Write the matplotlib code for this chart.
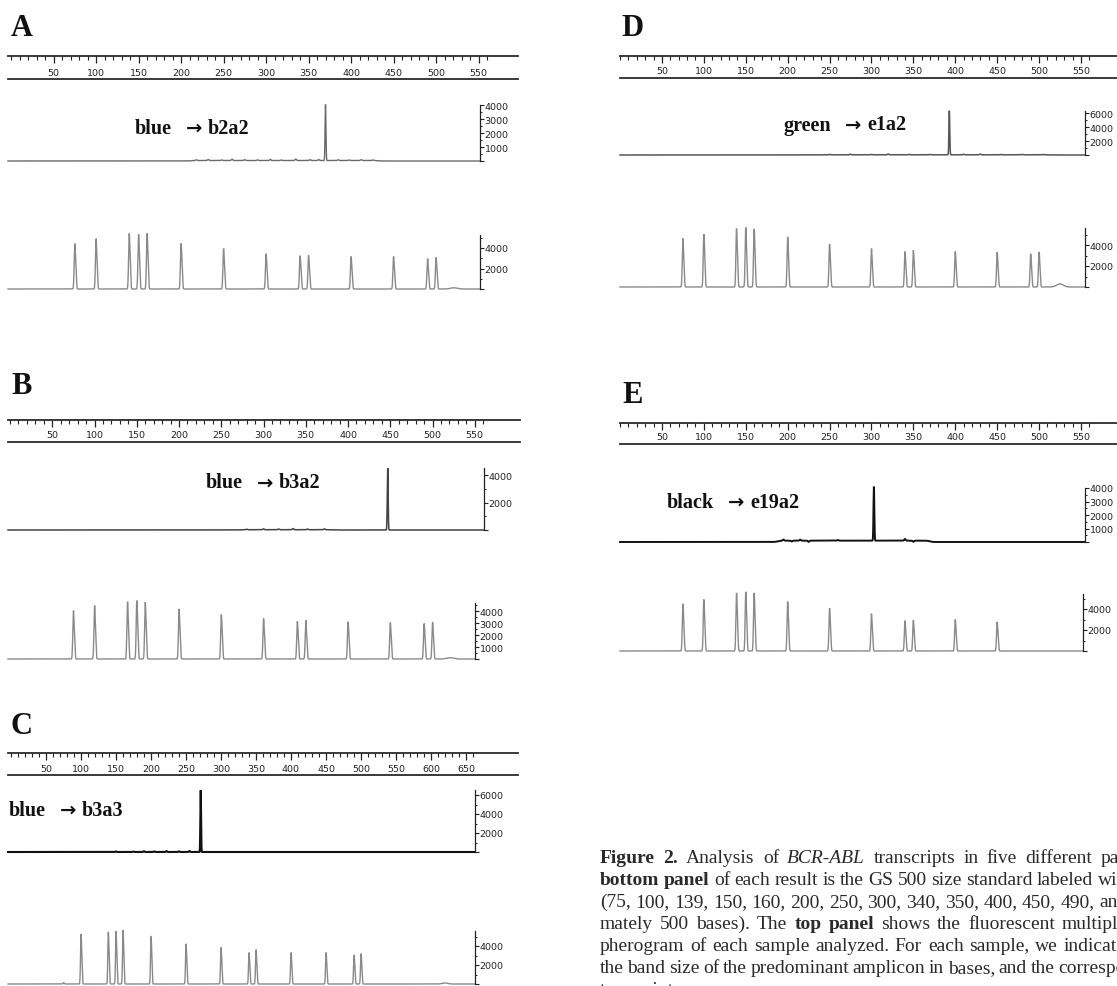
import numpy as np
import matplotlib.pyplot as plt

# ---- values ----
# GS 500 size standard fragments (bases)
SIZES = [75, 100, 139, 150, 160, 200, 250, 300, 340, 350, 400, 450, 490, 500]

# peak heights (RFU) of the size standard in each bottom panel
std_a = [4230, 4700, 5200, 5100, 5200, 4250, 3770, 3290, 3100, 3130, 3030, 3030, 2840, 2940]
std_b = [3860, 4260, 4570, 4660, 4540, 4000, 3540, 3230, 3000, 3090, 2970, 2910, 2830, 2940]
std_c = [120, 5020, 5260, 5330, 5440, 4800, 4030, 3680, 3160, 3440, 3160, 3160, 2910, 3050]
std_d = [4430, 4830, 5330, 5430, 5300, 4570, 3930, 3500, 3230, 3330, 3230, 3170, 3030, 3200]
std_e = [4300, 4700, 5300, 5400, 5300, 4500, 3900, 3400, 2770, 2800, 2870, 2650]

# small broad hump after the standard (size, height)
hump_a = (521, 120)
hump_b = (521, 110)
hump_c = (620, 110)
hump_d = (525, 300)

# sample amplicon (size, height)
peak_a = (370, 4000)
peak_b = (447, 4500)
peak_c = (271, 6500)
peak_d = (393, 6300)
peak_e = (303, 4000)

# low level debris on the sample baselines
noise_a_pos = [218, 232, 248, 260, 275, 290, 305, 318, 335, 352, 362, 385, 398, 412, 426]
noise_a_h = [50, 70, 40, 90, 60, 50, 80, 40, 100, 60, 70, 50, 40, 60, 40]
noise_b_pos = [280, 300, 318, 335, 352, 372]
noise_b_h = [40, 60, 50, 80, 50, 60]
noise_c_pos = [150, 175, 190, 205, 222, 240, 255]
noise_c_h = [60, 50, 80, 60, 90, 70, 100]
noise_d_pos = [250, 275, 300, 320, 345, 370, 410, 430, 455, 480, 505]
noise_d_h = [60, 90, 50, 120, 70, 60, 80, 100, 60, 70, 50]
noise_e_pos = [195, 205, 215, 225, 260, 340, 350]
noise_e_h = [80, -60, 70, -90, 50, 120, -80]
# raised stretch of baseline (from, to, level)
shelf_a = (212, 432, 35)
shelf_b = (270, 385, 20)
shelf_d = (235, 520, 25)
shelf_e = (188, 370, 100)

W, H = 1117, 987
fig = plt.figure(figsize=(W / 100, H / 100), dpi=100)
renderer = fig.canvas.get_renderer()
PT = 72 / 100  # points per pixel
serif = ['Liberation Serif', 'DejaVu Serif']


def px_axes(x0, y0, x1, y1):
    ax = fig.add_axes([x0 / W, 1 - y1 / H, (x1 - x0) / W, (y1 - y0) / H])
    ax.patch.set_alpha(0)
    return ax


def signal(u, pos, hts, sigma=0.7, shoulder=True):
    y = np.zeros_like(u)
    for c, h in zip(pos, hts):
        y += h * np.exp(-0.5 * ((u - c) / sigma) ** 2)
        if shoulder:
            y += 0.4 * h * np.exp(-0.5 * ((u - c - 1.3) / 0.6) ** 2)
    return y


def shelf(u, a, b, level):
    return level / (1 + np.exp(-(u - a) / 1.5)) / (1 + np.exp((u - b) / 1.5))


def ruler(x_l, x_r, y_t, y_b, x0, s, umax, lab_y):
    ax = px_axes(x_l, y_t, x_r, y_b)
    ax.set_xlim((x_l - x0) / s, (x_r - x0) / s)
    ax.set_ylim(0, 1)
    ax.spines['left'].set_visible(False)
    ax.spines['right'].set_visible(False)
    for sp in ['top', 'bottom']:
        ax.spines[sp].set_linewidth(1.3)
        ax.spines[sp].set_color('#2a2a2a')
    major = np.arange(50, umax + 1, 50)
    ax.set_xticks(major)
    ax.set_xticks(np.arange(0, umax + 11, 10), minor=True)
    ax.tick_params(axis='x', which='both', bottom=False, top=True, direction='in',
                   labelbottom=False, color='#222')
    ax.tick_params(axis='x', which='major', length=7 * PT, width=0.9)
    ax.tick_params(axis='x', which='minor', length=3.5 * PT, width=0.8)
    ax.set_yticks([])
    fy = (y_b - lab_y) / (y_b - y_t)
    for m in major:
        ax.text(m, fy, str(m), ha='center', va='center', fontsize=6.8,
                color='#222', family='DejaVu Sans')
    return ax


def trace(x_l, x0, s, base, k, axis_px, ymax, labels, minor, u, y, color, lw):
    top_px = base - ymax * k - 8
    ax = px_axes(x_l, top_px, axis_px, base + 6)
    ax.set_xlim((x_l - x0) / s, (axis_px - x0) / s)
    ax.set_ylim(-6 / k, (base - top_px) / k)
    for sp in ['left', 'top', 'bottom']:
        ax.spines[sp].set_visible(False)
    ax.spines['right'].set_bounds(0, ymax)
    ax.spines['right'].set_linewidth(0.9)
    ax.spines['right'].set_color('#222')
    ax.set_xticks([])
    ax.yaxis.tick_right()
    ax.set_yticks([0] + labels)
    ax.set_yticklabels([''] + [str(v) for v in labels])
    ax.set_yticks(np.arange(minor, ymax + 1, minor), minor=True)
    ax.tick_params(axis='y', which='major', direction='out', length=4 * PT, width=0.8,
                   pad=0.5, labelsize=6.8, colors='#222')
    ax.tick_params(axis='y', which='minor', direction='out', length=2.2 * PT, width=0.7,
                   colors='#222')
    ax.plot(u, y, color=color, lw=lw, clip_on=False, solid_joinstyle='miter')
    return ax


def sample_curve(u, peak, npos, nh, shelf_par=None, sigma=0.5):
    y = signal(u, [peak[0]], [peak[1]], sigma=sigma, shoulder=False)
    y += signal(u, npos, nh, sigma=0.8, shoulder=False)
    if shelf_par is not None:
        y += shelf(u, *shelf_par)
    return y


def std_curve(u, heights, hump):
    y = signal(u, SIZES[:len(heights)], heights)
    if hump is not None:
        y += hump[1] * np.exp(-0.5 * ((u - hump[0]) / 4) ** 2)
    return y


def dye_label(cx, cy, dye, transcript):
    # "dye  -> transcript", bold serif words with a heavy arrow between them
    parts = [(dye, serif, 14.5, 14), ('\u2192', ['DejaVu Sans'], 14, 6), (transcript, serif, 14.5, 0)]
    items = []
    total = 0
    for txt, fam, size, gap in parts:
        t = fig.text(0, 1 - cy / H, txt, ha='left', va='center_baseline', fontsize=size,
                     fontweight='bold', family=fam, color='#111')
        w = t.get_window_extent(renderer).width
        items.append((t, w, gap))
        total += w + gap
    x = cx - total / 2
    for t, w, gap in items:
        t.set_x(x / W)
        x += w + gap


# panel layout: letter, ruler, sample trace, size-standard trace
panels = [
    dict(name='A', letter=(22, 28), x0=11, s=0.85, rl=(8, 518, 57, 80), lab_y=73, umax=550,
         top=(162, 14 / 1000, 480, 4000, [1000, 2000, 3000, 4000], 500),
         bot=(290, 20.5 / 2000, 480, 5300, [2000, 4000], 1000),
         text=(192, 126, 'blue', 'b2a2'), peak=peak_a, noise=(noise_a_pos, noise_a_h),
         shelf=shelf_a, std=std_a, hump=hump_a, tcol='#6a6a6a', tlw=1.0),
    dict(name='B', letter=(22, 387), x0=10, s=0.845, rl=(8, 520, 421, 443), lab_y=436, umax=550,
         top=(531, 27.5 / 2000, 484, 4500, [2000, 4000], 1000),
         bot=(660, 12 / 1000, 475, 4700, [1000, 2000, 3000, 4000], 500),
         text=(263, 481, 'blue', 'b3a2'), peak=peak_b, noise=(noise_b_pos, noise_b_h),
         shelf=shelf_b, std=std_b, hump=hump_b, tcol='#444444', tlw=1.1),
    dict(name='C', letter=(22, 726), x0=11, s=0.7, rl=(8, 518, 754, 776), lab_y=770, umax=650,
         top=(853, 19 / 2000, 475, 6500, [2000, 4000, 6000], 1000),
         bot=(985, 19 / 2000, 475, 5600, [2000, 4000], 1000),
         text=(66, 808, 'blue', 'b3a3'), peak=peak_c, noise=(noise_c_pos, noise_c_h),
         shelf=None, std=std_c, hump=hump_c, tcol='#111111', tlw=1.5),
    dict(name='D', letter=(633, 28), x0=620, s=0.838, rl=(620, 1117, 57, 79), lab_y=72, umax=550,
         top=(156, 14 / 2000, 1085, 6300, [2000, 4000, 6000], 1000),
         bot=(288, 21 / 2000, 1085, 5600, [2000, 4000], 1000),
         text=(845, 123, 'green', 'e1a2'), peak=peak_d, noise=(noise_d_pos, noise_d_h),
         shelf=shelf_d, std=std_d, hump=hump_d, tcol='#555555', tlw=1.1),
    dict(name='E', letter=(633, 396), x0=620, s=0.838, rl=(620, 1117, 424, 445), lab_y=438, umax=550,
         top=(543, 13.5 / 1000, 1085, 4000, [1000, 2000, 3000, 4000], 500),
         bot=(652, 21 / 2000, 1083, 5400, [2000, 4000], 1000),
         text=(733, 500, 'black', 'e19a2'), peak=peak_e, noise=(noise_e_pos, noise_e_h),
         shelf=shelf_e, std=std_e, hump=None, tcol='#111111', tlw=1.4),
]

for p in panels:
    fig.text(p['letter'][0] / W, 1 - p['letter'][1] / H, p['name'], ha='center', va='center',
             fontsize=22, fontweight='bold', family=serif, color='#111')
    rl = p['rl']
    ruler(rl[0], rl[1], rl[2], rl[3], p['x0'], p['s'], p['umax'], p['lab_y'])

    x_l = rl[0]
    base, k, axis_px, ymax, labs, minor = p['top']
    u = np.arange((x_l - p['x0']) / p['s'], (axis_px - p['x0']) / p['s'], 0.05)
    y = sample_curve(u, p['peak'], *p['noise'], shelf_par=p['shelf'])
    trace(x_l, p['x0'], p['s'], base, k, axis_px, ymax, labs, minor, u, y, p['tcol'], p['tlw'])

    base, k, axis_px, ymax, labs, minor = p['bot']
    u = np.arange((x_l - p['x0']) / p['s'], (axis_px - p['x0']) / p['s'], 0.05)
    y = std_curve(u, p['std'], p['hump'])
    trace(x_l, p['x0'], p['s'], base, k, axis_px, ymax, labs, minor, u, y, '#8a8a8a', 1.0)

    dye_label(*p['text'])

# caption, set word by word (justified lines, cut at the right page edge)
caption = [
    ([('Figure 2.', 'bold', 'normal'), ('Analysis of', 'normal', 'normal'),
      ('BCR-ABL', 'normal', 'italic'), ('transcripts in five different patients. The', 'normal', 'normal')], 8.2),
    ([('bottom panel', 'bold', 'normal'),
      ('of each result is the GS 500 size standard labeled with', 'normal', 'normal')], 4.4),
    ([('(75, 100, 139, 150, 160, 200, 250, 300, 340, 350, 400, 450, 490, and', 'normal', 'normal')], 4.5),
    ([('mately 500 bases). The', 'normal', 'normal'), ('top panel', 'bold', 'normal'),
      ('shows the fluorescent multiplex', 'normal', 'normal')], 7.0),
    ([('pherogram of each sample analyzed. For each sample, we indicate', 'normal', 'normal')], 5.8),
    ([('the band size of the predominant amplicon in bases, and the corresponding', 'normal', 'normal')], 3.6),
    ([('transcript.', 'normal', 'normal')], 4.5),
]
cap_x, cap_y, lead = 600, 863, 22
for i, (segs, gap) in enumerate(caption):
    x = cap_x
    for text, weight, style in segs:
        for word in text.split():
            t = fig.text(x / W, 1 - (cap_y + i * lead) / H, word, ha='left', va='baseline',
                         fontsize=14, fontweight=weight, fontstyle=style, family=serif,
                         color='#2a2a2a')
            x += t.get_window_extent(renderer).width + gap

fig.savefig('out.png', dpi=100, facecolor='white')
